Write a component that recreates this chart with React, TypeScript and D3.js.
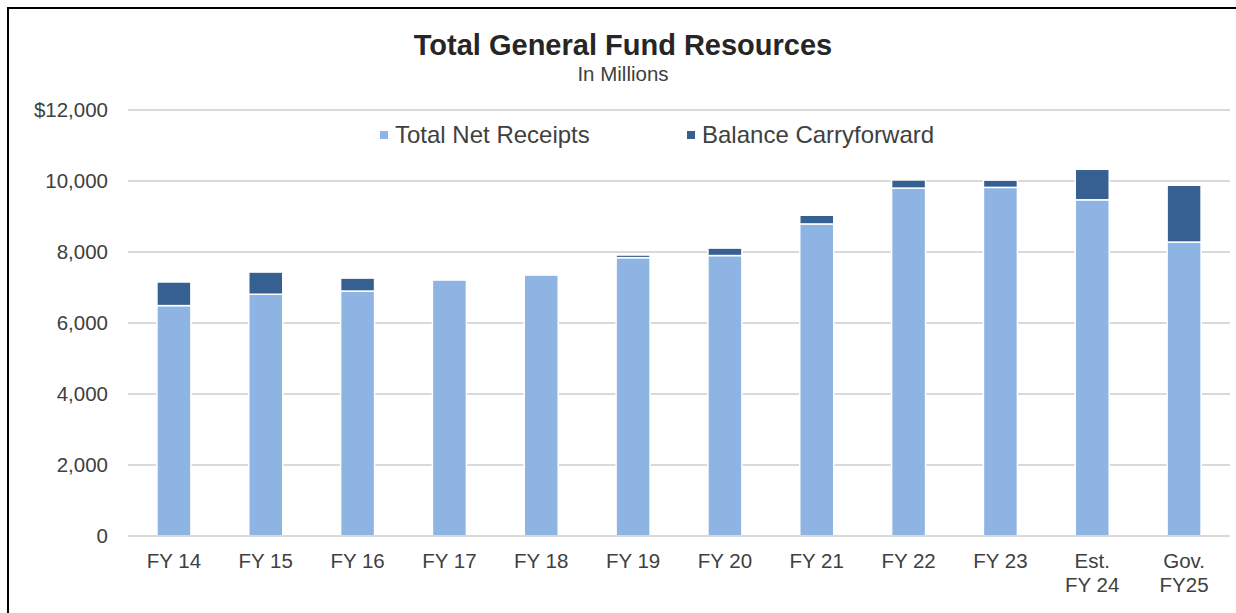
import React from "react";
import { scaleBand, scaleLinear, range } from "d3";

// values, $ millions
const categories = ["FY 14", "FY 15", "FY 16", "FY 17", "FY 18", "FY 19", "FY 20", "FY 21", "FY 22", "FY 23", "Est.\nFY 24", "Gov.\nFY25"];
const netReceipts = [6490, 6810, 6900, 7210, 7350, 7840, 7900, 8790, 9800, 9820, 9470, 8280];
const carryforward = [665, 625, 365, 0, 0, 75, 210, 245, 230, 205, 860, 1600];
const yTicks = [0, 2000, 4000, 6000, 8000, 10000, 12000];
const seriesNames = ["Total Net Receipts", "Balance Carryforward"];

const W = 1236, H = 613;
const light = "#8EB4E3", dark = "#366092";
const txt = "#404040";

export default function App() {
  const x = scaleBand<string>().domain(categories).range([128, 1230]).paddingInner(0.63).paddingOuter(0.315);
  const y = scaleLinear().domain([0, 12000]).range([536, 110]);
  const fmt = (v: number) => (v === 12000 ? "$12,000" : v.toLocaleString("en-US"));
  const font = "Arial, 'Liberation Sans', sans-serif";

  return (
    <div style={{ position: "absolute", left: 0, top: 0 }}>
      <svg width={W} height={H} style={{ display: "block" }} fontFamily={font}>
        <rect x={0} y={0} width={W} height={H} fill="#fff" />
        <rect x={8} y={8} width={W + 20} height={H + 20} fill="none" stroke="#000" strokeWidth={2} />

        <text x={623} y={55} textAnchor="middle" fontSize={29} fontWeight="bold" fill="#262626">Total General Fund Resources</text>
        <text x={623} y={81} textAnchor="middle" fontSize={20.5} fill={txt}>In Millions</text>

        {yTicks.map((t) => (
          <g key={t}>
            <line x1={128} x2={1230} y1={y(t)} y2={y(t)} stroke="#D9D9D9" strokeWidth={2} />
            <text x={108} y={y(t)} dy="0.36em" textAnchor="end" fontSize={20.5} fill={txt}>{fmt(t)}</text>
          </g>
        ))}

        {/* legend */}
        {seriesNames.map((s, i) => {
          const lx = i === 0 ? 380 : 687;
          return (
            <g key={s}>
              <rect x={lx} y={131} width={8} height={8} fill={i === 0 ? light : dark} />
              <text x={lx + 15} y={143} fontSize={24} fill={txt}>{s}</text>
            </g>
          );
        })}

        {categories.map((c, i) => {
          const bx = x(c)!;
          const bw = x.bandwidth();
          const r = netReceipts[i];
          const cf = carryforward[i];
          return (
            <g key={c}>
              <rect x={bx} y={y(r)} width={bw} height={y(0) - y(r)} fill={light} stroke="#fff" strokeWidth={1.5} />
              {cf > 0 && (
                <rect x={bx} y={y(r + cf)} width={bw} height={y(r) - y(r + cf)} fill={dark} stroke="#fff" strokeWidth={1.5} />
              )}
            </g>
          );
        })}

        <line x1={128} x2={1230} y1={y(0)} y2={y(0)} stroke="#D9D9D9" strokeWidth={2} />

        {categories.map((c) => {
          const cx = x(c)! + x.bandwidth() / 2;
          return (
            <text key={c} x={cx} y={568} textAnchor="middle" fontSize={20.5} fill={txt}>
              {c.split("\n").map((ln, j) => (
                <tspan key={j} x={cx} dy={j === 0 ? 0 : 24}>{ln}</tspan>
              ))}
            </text>
          );
        })}
      </svg>
    </div>
  );
}
